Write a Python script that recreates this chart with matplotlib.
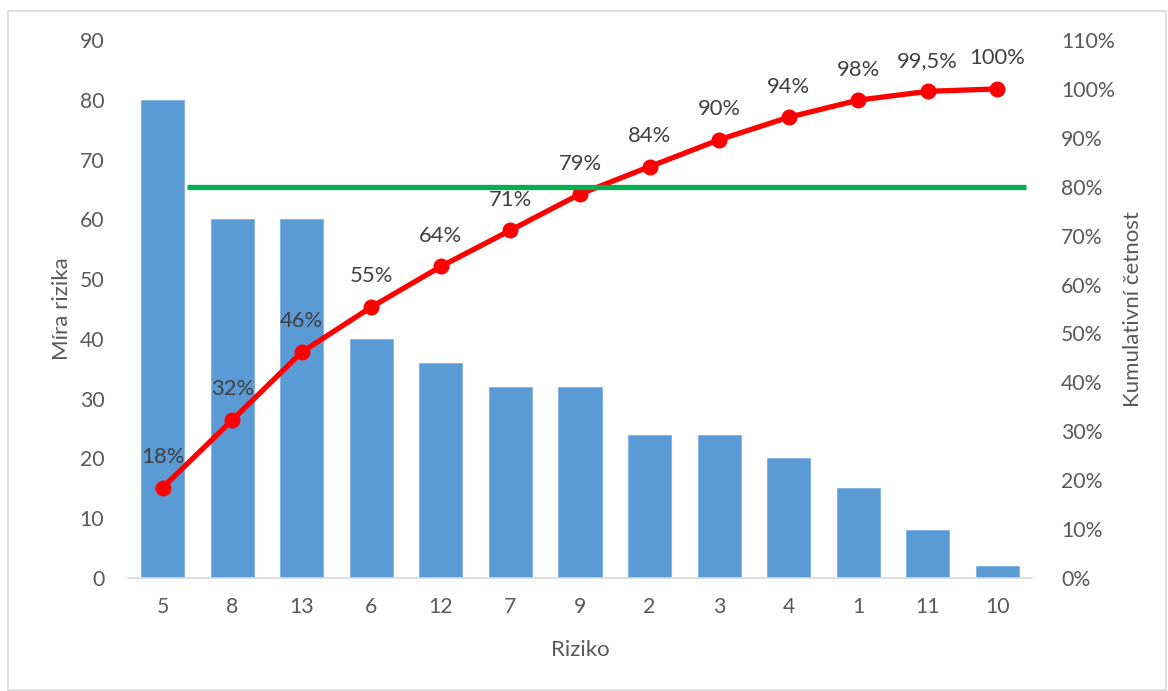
import matplotlib
matplotlib.use("Agg")
import matplotlib.pyplot as plt
from matplotlib.patches import Rectangle
from matplotlib.ticker import FixedLocator, FuncFormatter

categories = ["5", "8", "13", "6", "12", "7", "9", "2", "3", "4", "1", "11", "10"]
risk_values = [80, 60, 60, 40, 36, 32, 32, 24, 24, 20, 15, 8, 2]
cumulative_pct = [18.5, 32.3, 46.2, 55.4, 63.7, 71.1, 78.5, 84.1, 89.6, 94.2, 97.7, 99.5, 100.0]
cumulative_labels = ["18%", "32%", "46%", "55%", "64%", "71%", "79%", "84%", "90%", "94%", "98%", "99,5%", "100%"]
threshold_pct = 80
threshold_span = (0.35, 12.42)
left_ticks = [0, 10, 20, 30, 40, 50, 60, 70, 80, 90]
right_ticks = [0, 10, 20, 30, 40, 50, 60, 70, 80, 90, 100, 110]

plt.rcParams['font.family'] = ['Lato', 'DejaVu Sans']
text_color = "#595959"
fs_tick = 15.3
fs_title = 16

W, H = 1168, 691
fig = plt.figure(figsize=(W/100, H/100), dpi=100)
fig.patches.append(Rectangle((8/W, 0.002), 1 - 10/W, 1 - 11/H - 0.002,
                             transform=fig.transFigure, fill=False,
                             edgecolor="#D9D9D9", linewidth=1.2))
ax = fig.add_axes([128/W, (H-578)/H, (1032-128)/W, (578-40)/H])
x = list(range(len(categories)))
ax.bar(x, risk_values, width=0.62, color="#5B9BD5", edgecolor="#7FB1E0", linewidth=0.6, zorder=2)
ax.set_xlim(-0.5, len(categories) - 0.5)
ax.set_ylim(0, 90)
ax.yaxis.set_major_locator(FixedLocator(left_ticks))
ax.set_xticks(x)
ax.set_xticklabels(categories)
for s in ["top", "right", "left"]:
    ax.spines[s].set_visible(False)
ax.spines["bottom"].set_color("#D9D9D9")
ax.spines["bottom"].set_linewidth(1.2)
ax.tick_params(axis="both", length=0, labelsize=fs_tick, colors=text_color)
ax.tick_params(axis="x", pad=14)
ax.tick_params(axis="y", pad=17)
ax.set_xlabel("Riziko", fontsize=fs_title, color=text_color)
ax.xaxis.set_label_coords(0.5, -(650-578)/(578-40), transform=ax.transAxes)
ax.xaxis.label.set_va("center")
ax.set_ylabel("Míra rizika", fontsize=fs_title, color=text_color)
ax.yaxis.set_label_coords(-(128-62)/(1032-128), 0.5, transform=ax.transAxes)
ax.yaxis.label.set_va("center")

ax2 = ax.twinx()
ax2.set_ylim(0, 110)
ax2.yaxis.set_major_locator(FixedLocator(right_ticks))
ax2.yaxis.set_major_formatter(FuncFormatter(lambda v, p: f"{int(v)}%"))
for s in ["top", "right", "left", "bottom"]:
    ax2.spines[s].set_visible(False)
ax2.tick_params(axis="y", length=0, labelsize=fs_tick, colors=text_color, pad=21)
ax2.set_ylabel("Kumulativní četnost", fontsize=fs_title, color=text_color)
ax2.yaxis.set_label_coords(1 + (1133-1032)/(1032-128), 0.5, transform=ax2.transAxes)
ax2.yaxis.label.set_va("center")

ax2.plot(x, cumulative_pct, color="#FF0000", linewidth=3.8, marker="o",
         markersize=10.5, zorder=3)
for xi, yi, lab in zip(x, cumulative_pct, cumulative_labels):
    ax2.annotate(lab, (xi, yi), xytext=(0, 22), textcoords="offset points",
                 ha="center", va="center", fontsize=fs_tick + 0.5, color="#404040", zorder=4)
ax2.plot(list(threshold_span), [threshold_pct, threshold_pct], color="#00B050",
         linewidth=3.8, zorder=5, solid_capstyle="butt")

fig.savefig("out.png", dpi=100)
